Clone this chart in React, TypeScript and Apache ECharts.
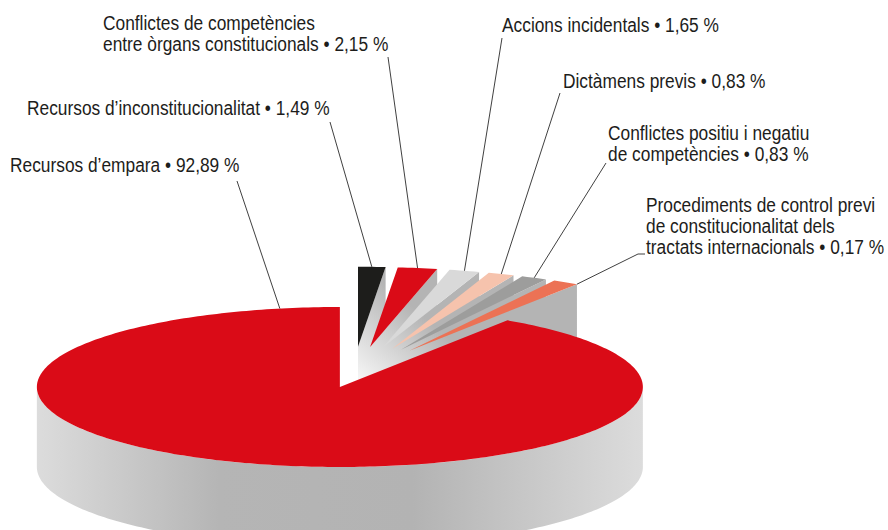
import React, { useEffect, useRef } from 'react';
import * as echarts from 'echarts';

// ---- data (clockwise from the back of the pie) ----
const categories = [
  'Recursos d’inconstitucionalitat',
  'Conflictes de competències\nentre òrgans constitucionals',
  'Accions incidentals',
  'Dictàmens previs',
  'Conflictes positiu i negatiu\nde competències',
  'Procediments de control previ\nde constitucionalitat dels\ntractats internacionals',
  'Recursos d’empara',
];
const values = [1.49, 2.15, 1.65, 0.83, 0.83, 0.17, 92.89];

// ---- styles / layout ----
const colors = ['#1d1d1b', '#da0b17', '#d9d9d9', '#f6c3ad', '#9d9d9c', '#ec7255', '#da0b17'];
const explode = [0.36, 0.36, 0.36, 0.36, 0.36, 0.36, 0.15];
const labelPos = [[27, 97], [103, 12], [502, 14], [563, 70], [608, 122], [646, 194], [10, 154]];
const leaderStart = [
  [[330, 122]],
  [[388, 57]],
  [[502, 38]],
  [[560, 93]],
  [[606, 163]],
  [[645, 254], [638, 254]],
  [[237, 181]],
];
const leaderFrac = [0.5, 0.5, 0.5, 0.5, 0.5, 1, 0.965];

const CX = 353;
const CY = 375.5;
const RA = 303; // horizontal radius
const RB = 80; // vertical radius
const DEPTH = 80;
const MIN_ANGLE = 5;

function sliceAngles(vals: number[]) {
  const total = vals.reduce((a, b) => a + b, 0);
  const small = vals.map((v) => (v / total) * 360 < MIN_ANGLE);
  const fixed = small.filter(Boolean).length * MIN_ANGLE;
  const rest = vals.reduce((s, v, i) => (small[i] ? s : s + v), 0);
  return vals.map((v, i) => (small[i] ? MIN_ANGLE : (v / rest) * (360 - fixed)));
}

const angles = sliceAngles(values);
const starts: number[] = [];
const ends: number[] = [];
{
  let acc = 0;
  angles.forEach((a) => {
    starts.push(acc);
    acc += a;
    ends.push(acc);
  });
}

const rad = (d: number) => (d * Math.PI) / 180;
function pt(c: number[], th: number, r: number, down: number) {
  return [c[0] + RA * r * Math.sin(rad(th)), c[1] - RB * r * Math.cos(rad(th)) + down];
}
function arc(c: number[], a0: number, a1: number, down: number) {
  const pts: number[][] = [];
  const n = Math.max(2, Math.ceil(Math.abs(a1 - a0) / 1));
  for (let k = 0; k <= n; k++) pts.push(pt(c, a0 + ((a1 - a0) * k) / n, 1, down));
  return pts;
}
const fmt = (v: number) => v.toFixed(2).replace('.', ',');

function renderItem(params: any, api: any) {
  const i = params.dataIndex;
  const v = api.value(0);
  const s = starts[i];
  const t = ends[i];
  const mid = (s + t) / 2;
  const c = pt([CX, CY], mid, explode[i], 0);
  const base = i * 10;
  const children: any[] = [];

  // end radial face
  if (Math.sin(rad(t)) > 0.001) {
    const r0 = pt(c, t, 1, 0);
    children.push({
      type: 'polygon',
      z2: base + 1,
      shape: { points: [c, r0, [r0[0], r0[1] + DEPTH], [c[0], c[1] + DEPTH]] },
      style: {
        fill: {
          type: 'linear', x: 368, y: 392, x2: 430, y2: 322, global: true,
          colorStops: [{ offset: 0, color: '#f8f8f8' }, { offset: 1, color: '#b4b4b4' }],
        },
      },
    });
  }
  // outer wall (front-facing portion)
  const w0 = Math.max(s, 90);
  const w1 = Math.min(t, 270);
  if (w1 > w0) {
    const top = arc(c, w0, w1, 0);
    const bot = arc(c, w1, w0, DEPTH);
    children.push({
      type: 'polygon',
      z2: base + 2,
      shape: { points: top.concat(bot) },
      style: {
        fill: {
          type: 'linear', x: 0, y: 0, x2: 1, y2: 0,
          colorStops: [
            { offset: 0, color: '#dcdcdc' },
            { offset: 0.3, color: '#b5b5b5' },
            { offset: 0.62, color: '#b3b3b3' },
            { offset: 1, color: '#dcdcdc' },
          ],
        },
      },
    });
  }
  // top face
  children.push({
    type: 'polygon',
    z2: base + 3,
    shape: { points: [c].concat(arc(c, s, t, 0)) },
    style: { fill: colors[i] },
  });
  // leader line
  const endPt = pt(c, s + (t - s) * leaderFrac[i], 1, 0);
  children.push({
    type: 'polyline',
    z2: 900,
    shape: { points: leaderStart[i].concat([endPt]) },
    style: { stroke: '#2a2a2a', lineWidth: 0.9, fill: null },
  });
  // label
  children.push({
    type: 'text',
    z2: 1000,
    x: labelPos[i][0],
    y: labelPos[i][1],
    scaleX: 0.825,
    style: {
      text: `${categories[i]} • ${fmt(v)} %`,
      fill: '#1d1d1b',
      fontSize: 21,
      fontFamily: '"Liberation Sans", Arial, sans-serif',
      lineHeight: 21,
      align: 'left',
      verticalAlign: 'top',
    },
  });
  return { type: 'group', children };
}

export default function App() {
  const ref = useRef<HTMLDivElement>(null);
  useEffect(() => {
    if (!ref.current) return;
    const chart = echarts.init(ref.current, null, { renderer: 'svg' });
    chart.setOption({
      animation: false,
      backgroundColor: '#ffffff',
      series: [
        {
          type: 'custom',
          coordinateSystem: 'none',
          silent: true,
          renderItem,
          data: values,
        },
      ],
    });
    return () => chart.dispose();
  }, []);
  return (
    <div
      ref={ref}
      style={{ position: 'absolute', left: 0, top: 0, width: 888, height: 530 }}
    />
  );
}
